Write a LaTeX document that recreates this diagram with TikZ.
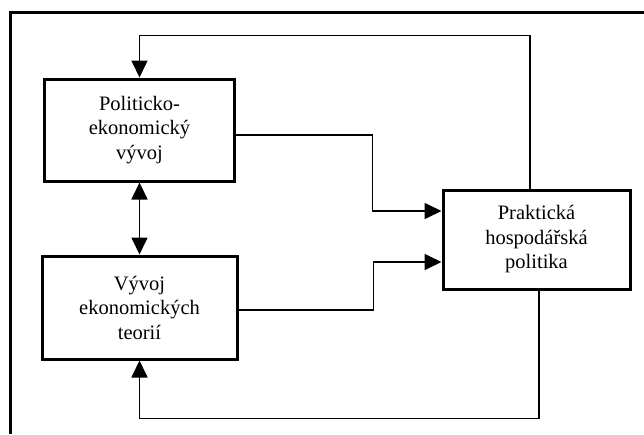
\documentclass[tikz,border=0pt]{standalone}
\usepackage{fontspec}
\setmainfont{Liberation Serif}
\usetikzlibrary{arrows.meta,calc}
\begin{document}
\begin{tikzpicture}[x=1pt,y=-1pt,
  box/.style={draw, line width=3pt, align=center, inner sep=0pt,
    font=\fontsize{20.5}{24.5}\selectfont},
  tip/.style={Triangle[length=17pt,width=16pt]},
  conn/.style={line width=1.7pt, -{Triangle[length=17pt,width=16pt]}},
]
\useasboundingbox (0,0) rectangle (644,434);
\fill[white] (0,0) rectangle (644,434);
\draw[line width=3pt] (10,434) -- (10,12) -- (644,12);

\node[box, minimum width=190pt, minimum height=102pt] (b1) at (139.5,130) {Politicko-\\ekonomický\\vývoj};
\node[box, minimum width=195pt, minimum height=103pt] (b2) at (139.5,307.5) {Vývoj\\ekonomických\\teorií};
\node[box, minimum width=187pt, minimum height=99pt] (b3) at (536.5,239.5) {Praktická\\hospodářská\\politika};

% feedback top
\draw[conn] ($(b3.north)+(-6.5,0)$) |- ($(b1.north)+(0,-42)$) -- (b1.north);
% feedback bottom
\draw[conn] ($(b3.south)+(2.5,0)$) |- ($(b2.south)+(0,58)$) -- (b2.south);
% double arrow
\draw[line width=1.7pt, {Triangle[length=17pt,width=16pt]}-{Triangle[length=17pt,width=16pt]}] (b1.south) -- (b2.north);
% box1 -> box3
\coordinate (k1) at ($(b3.west)+(-69,-28.5)$);
\draw[conn] ($(b1.east)+(0,5)$) -| (k1) -- ($(b3.west)+(0,-28.5)$);
% box2 -> box3
\coordinate (k2) at ($(b3.west)+(-68,22.5)$);
\draw[conn] ($(b2.east)+(0,2.5)$) -| (k2) -- ($(b3.west)+(0,22.5)$);
\end{tikzpicture}
\end{document}
